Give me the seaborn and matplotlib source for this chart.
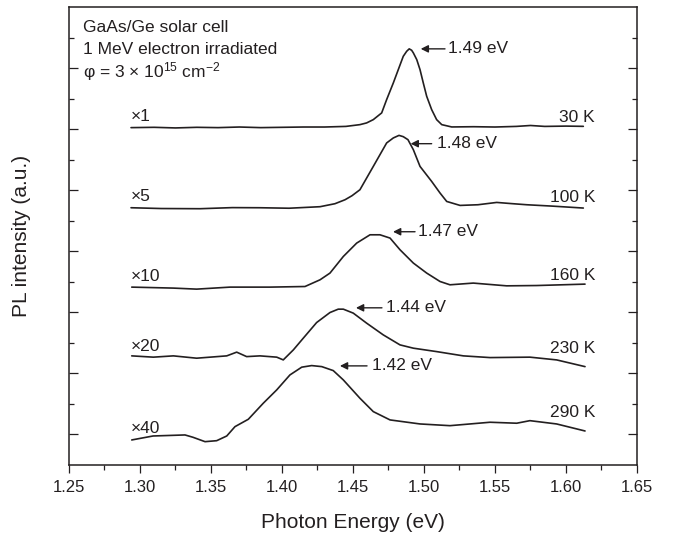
import numpy as np
import pandas as pd
import matplotlib
matplotlib.use("Agg")
import matplotlib.pyplot as plt
import seaborn as sns

# ---------------- data (photon energy in eV, stacked PL intensity in a.u.) ----------------
e_30K = [1.2937, 1.3100, 1.3250, 1.3400, 1.3550, 1.3700, 1.3850, 1.4000, 1.4150, 1.4300,
         1.4450, 1.4549, 1.4596, 1.4643, 1.4702, 1.4737, 1.4784, 1.4819, 1.4854, 1.4878,
         1.4896, 1.4913, 1.4925, 1.4949, 1.4972, 1.4995, 1.5019, 1.5054, 1.5089, 1.5125,
         1.5195, 1.5350, 1.5500, 1.5650, 1.5750, 1.5850, 1.6000, 1.6122]
i_30K = [5.525, 5.530, 5.520, 5.530, 5.525, 5.535, 5.525, 5.530, 5.535, 5.535,
         5.545, 5.574, 5.602, 5.656, 5.766, 5.984, 6.257, 6.475, 6.693, 6.775,
         6.815, 6.792, 6.749, 6.639, 6.475, 6.257, 6.038, 5.820, 5.656, 5.574,
         5.536, 5.540, 5.535, 5.545, 5.560, 5.545, 5.550, 5.546]

e_100K = [1.2937, 1.3150, 1.3423, 1.3650, 1.3845, 1.4050, 1.4268, 1.4373, 1.4444, 1.4493,
          1.4549, 1.4643, 1.4737, 1.4784, 1.4824, 1.4854, 1.4887, 1.4925, 1.4972, 1.5054,
          1.5113, 1.5160, 1.5254, 1.5380, 1.5512, 1.5620, 1.5724, 1.5900, 1.6122]
i_100K = [4.213, 4.200, 4.197, 4.215, 4.213, 4.205, 4.230, 4.279, 4.344, 4.410,
          4.508, 4.890, 5.274, 5.356, 5.398, 5.377, 5.328, 5.164, 4.890, 4.644,
          4.454, 4.316, 4.251, 4.262, 4.300, 4.280, 4.262, 4.240, 4.208]

e_160K = [1.2942, 1.3235, 1.3399, 1.3634, 1.3915, 1.4162, 1.4268, 1.4338, 1.4432, 1.4526,
          1.4620, 1.4690, 1.4761, 1.4831, 1.4925, 1.5019, 1.5113, 1.5183, 1.5347, 1.5582,
          1.5793, 1.6134]
i_160K = [2.913, 2.897, 2.880, 2.913, 2.913, 2.923, 3.033, 3.143, 3.415, 3.634,
          3.770, 3.770, 3.716, 3.525, 3.307, 3.143, 3.005, 2.951, 2.979, 2.934,
          2.939, 2.962]

e_230K = [1.2942, 1.3094, 1.3235, 1.3399, 1.3611, 1.3681, 1.3751, 1.3845, 1.3963, 1.4009,
          1.4080, 1.4150, 1.4244, 1.4338, 1.4396, 1.4432, 1.4502, 1.4596, 1.4713, 1.4831,
          1.4925, 1.5089, 1.5277, 1.5465, 1.5746, 1.5934, 1.6134]
i_230K = [1.787, 1.766, 1.787, 1.749, 1.787, 1.848, 1.775, 1.787, 1.766, 1.721,
          1.885, 2.077, 2.333, 2.497, 2.552, 2.552, 2.487, 2.323, 2.131, 1.967,
          1.913, 1.857, 1.787, 1.759, 1.766, 1.721, 1.611]

e_290K = [1.2942, 1.3092, 1.3317, 1.3373, 1.3458, 1.3540, 1.3611, 1.3669, 1.3763, 1.3868,
          1.3963, 1.4056, 1.4139, 1.4209, 1.4280, 1.4361, 1.4432, 1.4549, 1.4643, 1.4761,
          1.4972, 1.5183, 1.5465, 1.5653, 1.5746, 1.5934, 1.6134]
i_290K = [0.410, 0.475, 0.492, 0.454, 0.382, 0.398, 0.475, 0.628, 0.749, 1.011,
          1.230, 1.475, 1.602, 1.628, 1.611, 1.546, 1.393, 1.093, 0.874, 0.738,
          0.672, 0.644, 0.700, 0.684, 0.726, 0.672, 0.557]

temperatures = ["30 K", "100 K", "160 K", "230 K", "290 K"]
multipliers = ["\u00d71", "\u00d75", "\u00d710", "\u00d720", "\u00d740"]
peak_labels = ["1.49 eV", "1.48 eV", "1.47 eV", "1.44 eV", "1.42 eV"]
x_ticks = [1.25, 1.30, 1.35, 1.40, 1.45, 1.50, 1.55, 1.60, 1.65]

curves = [(e_30K, i_30K), (e_100K, i_100K), (e_160K, i_160K),
          (e_230K, i_230K), (e_290K, i_290K)]

# ---------------- style ----------------
sns.set_theme(style="ticks")
plt.rcParams["font.family"] = ["Liberation Sans", "DejaVu Sans"]
plt.rcParams["mathtext.fontset"] = "custom"
plt.rcParams["mathtext.rm"] = "Liberation Sans"
plt.rcParams["mathtext.it"] = "Liberation Sans:italic"
ink = "#231f20"

fig = plt.figure(figsize=(6.73, 5.41), dpi=100)
ax = fig.add_axes([0.1025, 0.1405, 0.844, 0.8465])

for (e, i), t in zip(curves, temperatures):
    df = pd.DataFrame({"E": e, "I": i})
    sns.lineplot(data=df, x="E", y="I", ax=ax, color=ink, lw=1.2,
                 sort=False, estimator=None)

ax.set_xlim(1.25, 1.65)
ax.set_ylim(0, 7.5)
ax.set_xticks(x_ticks)
ax.set_xticklabels([f"{v:.2f}" for v in x_ticks])
ax.set_xticks(np.arange(1.275, 1.65, 0.05), minor=True)
ax.set_yticks(np.arange(0.5, 7.0, 1.0))
ax.set_yticks(np.arange(1.0, 7.5, 1.0), minor=True)
ax.set_yticklabels([])

ax.tick_params(axis="x", which="both", direction="out", bottom=True, top=False,
               width=0.9, colors=ink, labelsize=12, pad=5)
ax.tick_params(axis="x", which="major", length=5.5)
ax.tick_params(axis="x", which="minor", length=3.5)
ax.tick_params(axis="y", which="both", direction="in", left=True, right=True,
               width=0.9, colors=ink)
ax.tick_params(axis="y", which="major", length=6.3)
ax.tick_params(axis="y", which="minor", length=3.4)
for s in ax.spines.values():
    s.set_linewidth(1.1)
    s.set_color(ink)

ax.set_xlabel("Photon Energy (eV)", fontsize=15, color=ink, labelpad=13)
ax.set_ylabel("PL intensity (a.u.)", fontsize=15, color=ink, labelpad=24)

fs = 12.5
# multipliers (left) and temperatures (right)
mult_y = [5.705, 4.393, 3.082, 1.939, 0.602]
temp_y = [5.689, 4.377, 3.098, 1.902, 0.852]
for m, t, my, ty in zip(multipliers, temperatures, mult_y, temp_y):
    ax.text(1.2937, my, m, fontsize=fs, color=ink, ha="left", va="center")
    ax.text(1.6204, ty, t, fontsize=fs, color=ink, ha="right", va="center")

# peak arrows
arrows = [(1.4977, 1.5148, 1.5169, 6.815),
          (1.4906, 1.5054, 1.5092, 5.262),
          (1.4782, 1.4937, 1.4958, 3.820),
          (1.4521, 1.4704, 1.4732, 2.574),
          (1.4408, 1.4599, 1.4634, 1.623)]
for lab, (tip, tail, tx, y) in zip(peak_labels, arrows):
    ax.annotate("", xy=(tip, y), xytext=(tail, y),
                arrowprops=dict(arrowstyle="-|>", color=ink, lw=1.0,
                                mutation_scale=11, shrinkA=0, shrinkB=0))
    ax.text(tx, y, lab, fontsize=fs, color=ink, ha="left", va="center")

# sample description
ax.text(1.2599, 7.164, "GaAs/Ge solar cell", fontsize=fs, color=ink, va="center")
ax.text(1.2599, 6.803, "1 MeV electron irradiated", fontsize=fs, color=ink, va="center")
ax.text(1.2599, 6.443, r"$\mathrm{\varphi}$ = 3 $\times$ 10$^{15}$ cm$^{-2}$",
        fontsize=fs, color=ink, va="center")

fig.savefig("out.png", dpi=100)
